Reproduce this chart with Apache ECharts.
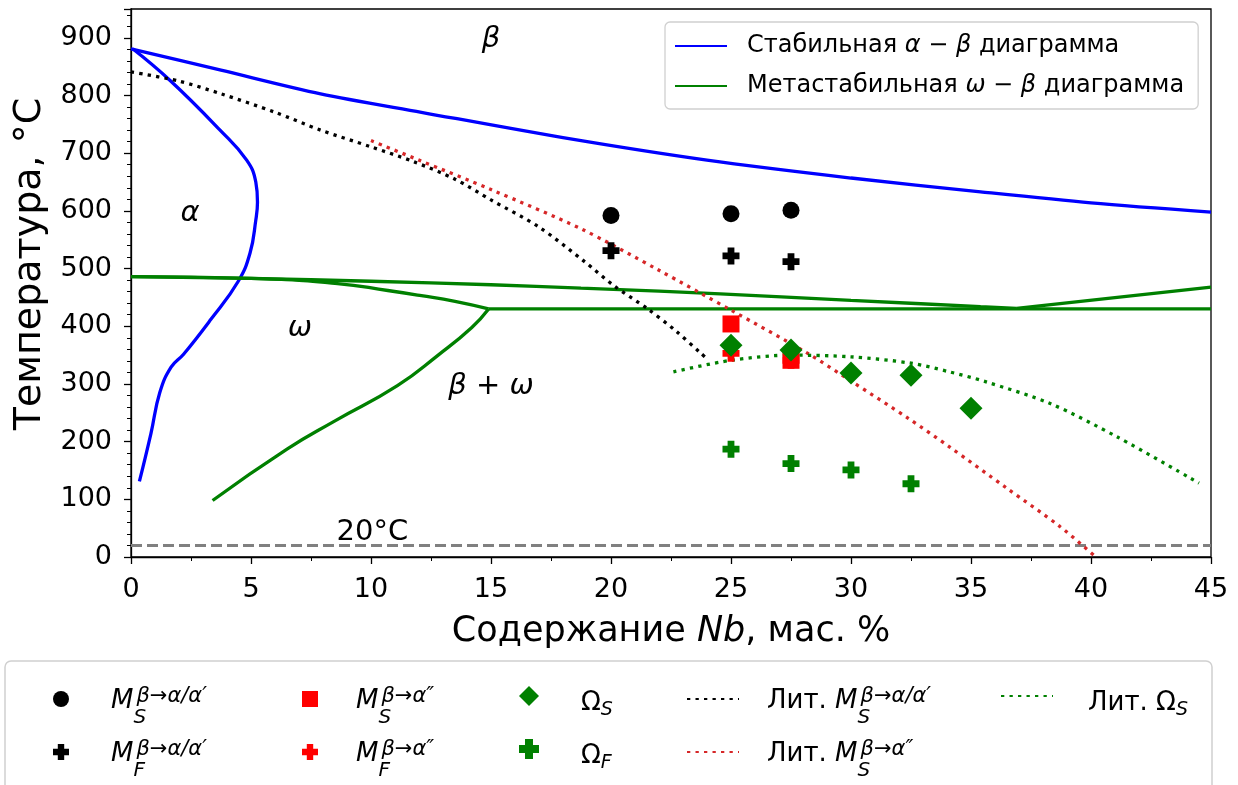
<!DOCTYPE html>
<html><head><meta charset="utf-8">
<script src="https://cdn.jsdelivr.net/npm/echarts@6/dist/echarts.min.js"></script>
<style>html,body{margin:0;padding:0;background:#fff}#c{width:1238px;height:785px}</style>
</head><body><div id="c"></div>
<script>
// ---------------- data (Nb, wt.% ; temperature, °C) ----------------
const alphaBetaTransus = [[0,881],[3.75,844],[7.9,803],[12.1,771],[18,727],[24,688],[30,657],[35.4,633],[40,614],[45,598]];
const alphaBoundary = [[0.07,881],[1.63,826],[3.71,740],[4.82,688],[5.2,650],[5.27,615],[5.2,584],[4.96,527],[4.47,478],[3.33,412],[2.2,352],[1.67,329],[1.2,285],[0.83,214],[0.35,131]];
const omegaUpperLeft = [[0,486],[5,483],[10,478],[15,472],[18.75,466],[22,461],[27.1,451],[30,445],[35.4,434],[36.9,431]];
const omegaUpperRight = [[36.9,431],[45,468]];
const omegaBranch = [[0,486],[5,483],[8.6,474],[10.7,462],[12.1,453],[13.5,443],[14.9,430]];
const omegaEutectoid = [[14.9,430],[45,430]];
const omegaLower = [[3.4,98],[6.5,187],[8.5,236],[11.1,297],[12.8,350],[14.2,398],[14.9,430]];
const litMsAlphaPrime = [[0,841],[2,825],[3.75,803],[6,771],[7.9,740],[10,711],[11.8,685],[13.5,655],[15,619],[17,572],[18.9,512],[20.1,471],[21.5,431],[22.7,392],[23.75,353],[24,344]];
const litMsAlpha2 = [[10,722],[12,688],[15,637],[18.75,569],[22,497],[25,428],[28.2,353],[30,305],[32.4,240],[34.1,191],[36.5,119],[38.7,53],[40.2,0]];
const litOmegaS = [[22.6,321],[25,341],[27.5,350],[30,347],[32.5,336],[34.1,321],[35.6,304],[38.3,266],[41.1,208],[44.5,128]];
const roomTemp = [[0,20],[45,20]];

const msAlphaPrimeX = [20,25,27.5],      msAlphaPrimeT = [592,595,601];
const mfAlphaPrimeX = [20,25,27.5],      mfAlphaPrimeT = [531,522,512];
const msAlpha2X = [25,27.5],             msAlpha2T = [404,341];
const mfAlpha2X = [25,27.5],             mfAlpha2T = [353,341];
const omegaSX = [25,27.5,30,32.5,35],    omegaST = [367,359,319,315,258];
const omegaFX = [25,27.5,30,32.5],       omegaFT = [187,162,151,127];

const regionLabels = ['{i|β}', '{i|α}', '{i|ω}', '{i|β}{u| + }{i|ω}', '{u|20°C}'];
const regionLabelX = [15, 2.46, 7.04, 15, 10.06];
const regionLabelT = [897, 595, 396, 295, 42];

const xTickValues = [0,5,10,15,20,25,30,35,40,45];
const yTickValues = [0,100,200,300,400,500,600,700,800,900];

// ---------------- chart ----------------
const F = 'DejaVu Sans';
const zip = (xs, ys) => xs.map((x, i) => [x, ys[i]]);
const PLUS = 'path://M3,0H7V3H10V7H7V10H3V7H0V3H3Z';
const BLUE = '#0000ff', GREEN = '#008000', RED = '#ff0000', DRED = '#d62728';
const STABLE = 'Стабильная α − β диаграмма';
const META = 'Метастабильная ω − β диаграмма';

const legendText = {
  'Ms_aa': '{m|M}{sb|S}{sp|β→α/α′}',
  'Mf_aa': '{m|M}{sb|F}{sp|β→α/α′}',
  'Ms_a2': '{m|M}{sb|S}{sp|β→α″}',
  'Mf_a2': '{m|M}{sb|F}{sp|β→α″}',
  'Os': '{o|Ω}{os|S}',
  'Of': '{o|Ω}{os|F}',
  'Lit_Ms_aa': '{n|Лит. }{m|M}{sb|S}{sp|β→α/α′}',
  'Lit_Ms_a2': '{n|Лит. }{m|M}{sb|S}{sp|β→α″}',
  'Lit_Os': '{o|Лит. }{o|Ω}{os|S}'
};
legendText[STABLE] = '{t|Стабильная }{ti|α}{t| − }{ti|β}{t| диаграмма}';
legendText[META] = '{t|Метастабильная }{ti|ω}{t| − }{ti|β}{t| диаграмма}';

const base = {fontFamily: F, color: '#000', verticalAlign: 'top'};
const rich = {
  t: {fontSize: 24, fontFamily: F, color: '#000', lineHeight: 30},
  ti: {fontSize: 24, fontFamily: F, color: '#000', lineHeight: 30, fontStyle: 'italic'},
  n: Object.assign({}, base, {fontSize: 26, lineHeight: 26, padding: [2,0,0,0]}),
  m: Object.assign({}, base, {fontSize: 26, lineHeight: 26, padding: [2,0,0,0], fontStyle: 'italic'}),
  sp: Object.assign({}, base, {fontSize: 21, lineHeight: 10, padding: [0,0,0,3], fontStyle: 'italic'}),
  sb: Object.assign({}, base, {fontSize: 20, lineHeight: 20, padding: [22,0,0,0], fontStyle: 'italic', width: 0}),
  o: Object.assign({}, base, {fontSize: 26, lineHeight: 26, padding: [7,0,0,0]}),
  os: Object.assign({}, base, {fontSize: 19, lineHeight: 18, padding: [18,0,0,0], fontStyle: 'italic'})
};

function col(names, left, top, iw, ih, gap, padLeft, hideSymbol) {
  const l = {
    orient: 'vertical', left: left, top: top, itemWidth: iw, itemHeight: ih, itemGap: gap,
    padding: 0, z: 10, selectedMode: false,
    data: names,
    formatter: n => legendText[n],
    textStyle: {padding: [0,0,0,padLeft], rich: rich}
  };
  if (hideSymbol) l.itemStyle = {opacity: 0};
  return l;
}

const lineS = (name, data, color, smooth, type, width) => ({
  name, type: 'line', data, symbol: 'none', smooth: smooth, silent: true,
  lineStyle: {color, width: width || 3.3, type: type || 'solid', cap: 'butt'},
  itemStyle: {color}, z: 2
});
const scatS = (name, data, color, symbol, size) => ({
  name, type: 'scatter', data, symbol, symbolSize: size, silent: true,
  itemStyle: {color, opacity: 1}, z: 3
});
const DOT = [3.3, 5.2];

const chart = echarts.init(document.getElementById('c'), null, {renderer: 'canvas'});
chart.setOption({
  animation: false,
  backgroundColor: '#fff',
  textStyle: {fontFamily: F},
  grid: {left: 131, right: 27, top: 9, bottom: 228, show: true, borderColor: '#000', borderWidth: 1.3, backgroundColor: 'transparent'},
  xAxis: {
    type: 'value', min: 0, max: 45, interval: 5,
    axisLine: {onZero: false, lineStyle: {color: '#000', width: 1.3}},
    axisTick: {length: 7, lineStyle: {color: '#000', width: 1.3}},
    minorTick: {show: true, splitNumber: 2, length: 4, lineStyle: {color: '#000', width: 1}},
    splitLine: {show: false},
    axisLabel: {fontSize: 27, color: '#000', fontFamily: F, margin: 19,
      formatter: v => xTickValues.includes(v) ? String(v) : ''},
    name: '{n|Содержание }{i|Nb}{n|, мас. %}',
    nameLocation: 'middle', nameGap: 55,
    nameTextStyle: {rich: {
      n: {fontSize: 35, fontFamily: F, color: '#000', lineHeight: 40},
      i: {fontSize: 35, fontFamily: F, color: '#000', lineHeight: 40, fontStyle: 'italic'}}}
  },
  yAxis: {
    type: 'value', min: 0, max: 950, interval: 100,
    axisLine: {onZero: false, lineStyle: {color: '#000', width: 1.3}},
    axisTick: {length: 7, lineStyle: {color: '#000', width: 1.3}},
    minorTick: {show: true, splitNumber: 5, length: 4, lineStyle: {color: '#000', width: 1}},
    splitLine: {show: false},
    axisLabel: {fontSize: 27, color: '#000', fontFamily: F, margin: 19,
      formatter: v => yTickValues.includes(v) ? String(v) : ''},
    name: 'Температура, °C', nameLocation: 'middle', nameGap: 80,
    nameTextStyle: {fontSize: 38, fontFamily: F, color: '#000', padding: [0, 0, 0, 38]}
  },
  graphic: [{
    type: 'rect', z: 1, silent: true,
    shape: {x: 5, y: 661, width: 1207, height: 140, r: 6},
    style: {fill: '#fff', stroke: '#d0d0d0', lineWidth: 1.5}
  }],
  legend: [
    {
      orient: 'vertical', left: 665, top: 22, itemWidth: 52, itemHeight: 14, itemGap: 16,
      padding: [12, 14, 11, 9], z: 10, selectedMode: false,
      backgroundColor: 'rgba(255,255,255,0.85)', borderColor: '#d0d0d0', borderWidth: 1.3, borderRadius: 5,
      data: [STABLE, META],
      itemStyle: {opacity: 0},
      formatter: n => legendText[n],
      textStyle: {padding: [0,0,0,15], rich: rich}
    },
    col(['Ms_aa', 'Mf_aa'], 53, 686, 16, 16, 11, 37),
    col(['Ms_a2', 'Mf_a2'], 302, 686, 16, 16, 11, 33),
    col(['Os', 'Of'], 519, 683, 20, 20, 16, 37),
    col(['Lit_Ms_aa', 'Lit_Ms_a2'], 686, 686, 52, 14, 11, 23, true),
    col(['Lit_Os'], 1000, 683, 52, 14, 16, 30, true)
  ],
  series: [
    lineS(STABLE, alphaBetaTransus, BLUE, 0.3),
    lineS(STABLE, alphaBoundary, BLUE, 0.45),
    lineS(META, omegaUpperLeft, GREEN, 0.3),
    lineS(META, omegaUpperRight, GREEN, false),
    lineS(META, omegaBranch, GREEN, 0.5),
    lineS(META, omegaEutectoid, GREEN, false),
    lineS(META, omegaLower, GREEN, 0.5),
    lineS('room', roomTemp, '#808080', false, [11, 5], 3),
    scatS('Ms_aa', zip(msAlphaPrimeX, msAlphaPrimeT), '#000', 'circle', 17),
    scatS('Mf_aa', zip(mfAlphaPrimeX, mfAlphaPrimeT), '#000', PLUS, 17),
    scatS('Ms_a2', zip(msAlpha2X, msAlpha2T), RED, 'rect', 17),
    scatS('Mf_a2', zip(mfAlpha2X, mfAlpha2T), RED, PLUS, 17),
    scatS('Os', zip(omegaSX, omegaST), GREEN, 'diamond', 23),
    scatS('Of', zip(omegaFX, omegaFT), GREEN, PLUS, 17),
    lineS('Lit_Ms_aa', litMsAlphaPrime, '#000', 0.3, DOT, 3.3),
    lineS('Lit_Ms_a2', litMsAlpha2, DRED, 0.3, DOT, 3.3),
    lineS('Lit_Os', litOmegaS, GREEN, 0.3, DOT, 3.3),
    {
      name: 'labels', type: 'scatter', silent: true, symbolSize: 1, itemStyle: {color: 'rgba(0,0,0,0)'},
      data: regionLabels.map((t, i) => [regionLabelX[i], regionLabelT[i], t]),
      label: {show: true, position: 'inside', color: '#000', opacity: 1, formatter: p => p.data[2],
        rich: {
          i: {fontSize: 29, fontFamily: F, color: '#000', fontStyle: 'italic'},
          u: {fontSize: 29, fontFamily: F, color: '#000'}
        }}, z: 4
    }
  ]
});
</script></body></html>
